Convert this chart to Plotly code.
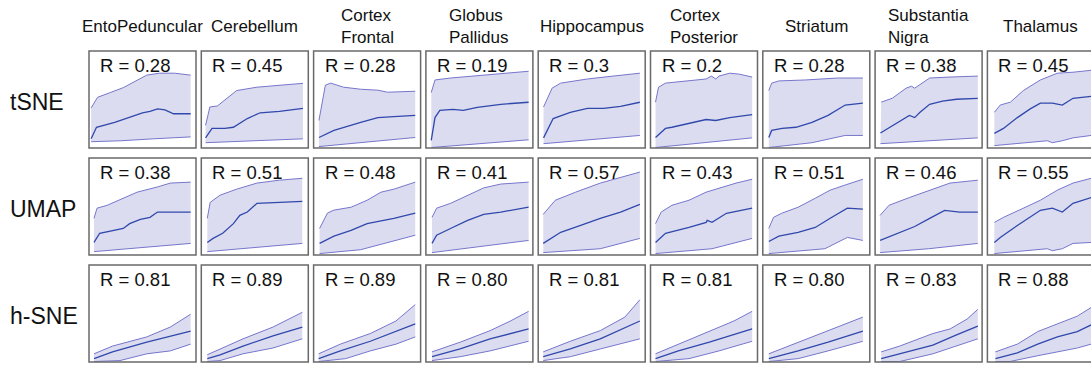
import plotly.graph_objects as go

REGIONS = ["EntoPeduncular", "Cerebellum", "Cortex<br>Frontal", "Globus<br>Pallidus",
           "Hippocampus", "Cortex<br>Posterior", "Striatum", "Substantia<br>Nigra", "Thalamus"]
METHODS = ["tSNE", "UMAP", "h-SNE"]

R_TSNE = ["0.28", "0.45", "0.28", "0.19", "0.3", "0.2", "0.28", "0.38", "0.45"]
R_UMAP = ["0.38", "0.51", "0.48", "0.41", "0.57", "0.43", "0.51", "0.46", "0.55"]
R_HSNE = ["0.81", "0.89", "0.89", "0.80", "0.81", "0.81", "0.80", "0.83", "0.88"]

# (x, y) pairs per region; x and y as fraction of panel
TSNE_UPPER = [
    [(0.02, 0.41), (0.08, 0.52), (0.2, 0.57), (0.32, 0.62), (0.54, 0.75), (0.66, 0.77), (0.8, 0.77), (0.95, 0.75)],
    [(0.04, 0.23), (0.08, 0.42), (0.15, 0.43), (0.33, 0.59), (0.52, 0.625), (0.73, 0.645), (0.95, 0.665)],
    [(0.05, 0.28), (0.11, 0.646), (0.16, 0.667), (0.28, 0.625), (0.44, 0.604), (0.6, 0.594), (0.69, 0.573), (0.95, 0.583)],
    [(0.05, 0.57), (0.085, 0.70), (0.23, 0.72), (0.54, 0.75), (0.96, 0.79)],
    [(0.05, 0.42), (0.13, 0.615), (0.21, 0.667), (0.46, 0.71), (0.70, 0.74), (0.95, 0.77)],
    [(0.047, 0.47), (0.075, 0.625), (0.14, 0.667), (0.36, 0.69), (0.52, 0.71), (0.57, 0.74), (0.61, 0.71),
     (0.64, 0.74), (0.74, 0.77), (0.83, 0.76), (0.95, 0.73)],
    [(0.056, 0.59), (0.083, 0.667), (0.15, 0.69), (0.40, 0.70), (0.70, 0.72), (0.935, 0.72)],
    [(0.057, 0.47), (0.16, 0.51), (0.29, 0.615), (0.34, 0.635), (0.37, 0.615), (0.51, 0.72), (0.70, 0.73), (0.96, 0.74)],
    [(0.065, 0.365), (0.12, 0.44), (0.215, 0.47), (0.336, 0.59), (0.495, 0.70), (0.654, 0.77), (0.80, 0.78), (0.97, 0.80)],
]
TSNE_MEAN = [
    [(0.02, 0.09), (0.07, 0.21), (0.24, 0.26), (0.38, 0.31), (0.5, 0.36), (0.57, 0.375), (0.64, 0.40), (0.71, 0.39),
     (0.79, 0.35), (0.95, 0.35)],
    [(0.04, 0.10), (0.10, 0.198), (0.22, 0.198), (0.30, 0.21), (0.43, 0.30), (0.55, 0.36), (0.73, 0.375), (0.95, 0.406)],
    [(0.05, 0.104), (0.19, 0.177), (0.44, 0.26), (0.6, 0.31), (0.75, 0.32), (0.95, 0.333)],
    [(0.05, 0.073), (0.085, 0.31), (0.13, 0.385), (0.25, 0.396), (0.35, 0.385), (0.48, 0.417), (0.70, 0.448), (0.96, 0.469)],
    [(0.05, 0.10), (0.14, 0.30), (0.30, 0.365), (0.46, 0.406), (0.61, 0.406), (0.77, 0.427), (0.95, 0.469)],
    [(0.047, 0.104), (0.14, 0.198), (0.2, 0.21), (0.36, 0.25), (0.52, 0.29), (0.61, 0.28), (0.74, 0.31), (0.95, 0.34)],
    [(0.056, 0.104), (0.083, 0.177), (0.18, 0.198), (0.31, 0.21), (0.46, 0.26), (0.61, 0.333), (0.77, 0.44), (0.935, 0.46)],
    [(0.05, 0.15), (0.23, 0.27), (0.32, 0.333), (0.37, 0.31), (0.42, 0.365), (0.51, 0.448), (0.63, 0.48), (0.76, 0.50),
     (0.96, 0.51)],
    [(0.065, 0.146), (0.15, 0.198), (0.28, 0.31), (0.40, 0.40), (0.495, 0.46), (0.607, 0.46), (0.70, 0.44), (0.80, 0.51),
     (0.97, 0.53)],
]
TSNE_LOWER = [
    [(0.02, 0.06), (0.3, 0.07), (0.6, 0.09), (0.95, 0.11)],
    [(0.04, 0.05), (0.5, 0.07), (0.95, 0.09)],
    [(0.05, 0.01), (0.5, 0.06), (0.95, 0.104)],
    [(0.05, 0.0), (0.5, 0.04), (0.96, 0.08)],
    [(0.05, 0.04), (0.5, 0.08), (0.95, 0.125)],
    [(0.047, 0.0), (0.5, 0.05), (0.95, 0.10)],
    [(0.056, 0.0), (0.46, 0.05), (0.77, 0.125), (0.935, 0.125)],
    [(0.05, 0.04), (0.5, 0.07), (0.96, 0.10)],
    [(0.065, 0.02), (0.56, 0.07), (0.607, 0.05), (0.70, 0.07), (0.80, 0.10), (0.97, 0.125)],
]

UMAP_UPPER = [
    [(0.047, 0.375), (0.075, 0.48), (0.17, 0.51), (0.32, 0.583), (0.45, 0.646), (0.64, 0.70), (0.76, 0.74), (0.95, 0.75)],
    [(0.056, 0.375), (0.083, 0.54), (0.11, 0.5625), (0.176, 0.615), (0.33, 0.677), (0.52, 0.74), (0.73, 0.77), (0.944, 0.79)],
    [(0.056, 0.27), (0.13, 0.43), (0.19, 0.46), (0.35, 0.49), (0.50, 0.5625), (0.63, 0.646), (0.75, 0.677), (0.95, 0.75)],
    [(0.057, 0.385), (0.10, 0.48), (0.23, 0.53), (0.39, 0.615), (0.54, 0.69), (0.70, 0.73), (0.96, 0.75)],
    [(0.047, 0.417), (0.16, 0.5625), (0.35, 0.646), (0.58, 0.74), (0.95, 0.854)],
    [(0.047, 0.32), (0.10, 0.44), (0.20, 0.51), (0.36, 0.5625), (0.52, 0.646), (0.67, 0.70), (0.80, 0.74), (0.95, 0.78)],
    [(0.056, 0.27), (0.10, 0.385), (0.176, 0.427), (0.33, 0.49), (0.49, 0.583), (0.63, 0.667), (0.77, 0.72), (0.935, 0.78)],
    [(0.047, 0.406), (0.13, 0.51), (0.32, 0.59), (0.51, 0.667), (0.70, 0.74), (0.96, 0.77)],
    [(0.065, 0.333), (0.15, 0.385), (0.336, 0.48), (0.495, 0.5625), (0.654, 0.667), (0.80, 0.74), (0.97, 0.79)],
]
UMAP_MEAN = [
    [(0.047, 0.125), (0.10, 0.22), (0.32, 0.27), (0.38, 0.32), (0.48, 0.365), (0.57, 0.385), (0.64, 0.44), (0.79, 0.44),
     (0.95, 0.44)],
    [(0.056, 0.125), (0.11, 0.167), (0.20, 0.22), (0.30, 0.32), (0.36, 0.406), (0.43, 0.44), (0.52, 0.53), (0.73, 0.54),
     (0.944, 0.55)],
    [(0.056, 0.115), (0.19, 0.19), (0.35, 0.25), (0.50, 0.32), (0.75, 0.375), (0.95, 0.43)],
    [(0.057, 0.115), (0.10, 0.20), (0.23, 0.27), (0.39, 0.354), (0.54, 0.417), (0.70, 0.44), (0.96, 0.49)],
    [(0.047, 0.115), (0.21, 0.23), (0.39, 0.30), (0.58, 0.375), (0.77, 0.44), (0.95, 0.52)],
    [(0.047, 0.125), (0.14, 0.22), (0.36, 0.28), (0.52, 0.333), (0.53, 0.354), (0.575, 0.333), (0.71, 0.427), (0.95, 0.48)],
    [(0.056, 0.135), (0.15, 0.19), (0.33, 0.23), (0.49, 0.28), (0.63, 0.375), (0.79, 0.48), (0.935, 0.47)],
    [(0.047, 0.146), (0.23, 0.23), (0.37, 0.29), (0.51, 0.375), (0.65, 0.458), (0.79, 0.44), (0.96, 0.44)],
    [(0.065, 0.125), (0.12, 0.177), (0.28, 0.30), (0.40, 0.385), (0.495, 0.458), (0.607, 0.48), (0.70, 0.44), (0.80, 0.53),
     (0.97, 0.59)],
]
UMAP_LOWER = [
    [(0.047, 0.03), (0.5, 0.07), (0.95, 0.115)],
    [(0.056, 0.03), (0.5, 0.07), (0.944, 0.115)],
    [(0.056, 0.01), (0.44, 0.05), (0.95, 0.20)],
    [(0.057, 0.02), (0.5, 0.08), (0.96, 0.146)],
    [(0.047, 0.02), (0.58, 0.06), (0.95, 0.167)],
    [(0.047, 0.01), (0.575, 0.06), (0.95, 0.167)],
    [(0.056, 0.01), (0.58, 0.06), (0.79, 0.177), (0.935, 0.146)],
    [(0.047, 0.02), (0.5, 0.06), (0.96, 0.115)],
    [(0.065, 0.01), (0.56, 0.06), (0.607, 0.04), (0.70, 0.06), (0.80, 0.115), (0.97, 0.125)],
]

HSNE_UPPER = [
    [(0.047, 0.08), (0.22, 0.16), (0.54, 0.255), (0.76, 0.357), (0.85, 0.42), (0.95, 0.49)],
    [(0.056, 0.07), (0.176, 0.13), (0.39, 0.235), (0.67, 0.357), (0.944, 0.51)],
    [(0.047, 0.08), (0.25, 0.18), (0.53, 0.29), (0.77, 0.42), (0.95, 0.59)],
    [(0.057, 0.10), (0.32, 0.20), (0.60, 0.32), (0.79, 0.42), (0.96, 0.52)],
    [(0.047, 0.10), (0.30, 0.21), (0.58, 0.32), (0.81, 0.46), (0.95, 0.64)],
    [(0.047, 0.08), (0.26, 0.18), (0.55, 0.31), (0.78, 0.42), (0.95, 0.52)],
    [(0.056, 0.08), (0.33, 0.20), (0.61, 0.32), (0.935, 0.46)],
    [(0.057, 0.10), (0.23, 0.16), (0.54, 0.29), (0.70, 0.337), (0.86, 0.44), (0.96, 0.54)],
    [(0.075, 0.10), (0.28, 0.18), (0.47, 0.31), (0.654, 0.39), (0.84, 0.47), (0.97, 0.56)],
]
HSNE_MEAN = [
    [(0.047, 0.03), (0.22, 0.10), (0.54, 0.20), (0.76, 0.265), (0.95, 0.316)],
    [(0.056, 0.03), (0.176, 0.07), (0.39, 0.16), (0.67, 0.265), (0.944, 0.357)],
    [(0.047, 0.03), (0.25, 0.11), (0.53, 0.21), (0.77, 0.31), (0.95, 0.39)],
    [(0.057, 0.05), (0.32, 0.13), (0.60, 0.235), (0.96, 0.337)],
    [(0.047, 0.05), (0.30, 0.13), (0.58, 0.235), (0.95, 0.42)],
    [(0.047, 0.03), (0.26, 0.11), (0.55, 0.20), (0.95, 0.337)],
    [(0.056, 0.03), (0.33, 0.11), (0.61, 0.20), (0.935, 0.316)],
    [(0.057, 0.03), (0.30, 0.10), (0.54, 0.17), (0.75, 0.27), (0.96, 0.367)],
    [(0.075, 0.03), (0.28, 0.09), (0.47, 0.18), (0.654, 0.255), (0.84, 0.31), (0.97, 0.38)],
]
HSNE_LOWER = [
    [(0.047, 0.0), (0.29, 0.01), (0.54, 0.08), (0.76, 0.11), (0.95, 0.18)],
    [(0.056, 0.0), (0.176, 0.01), (0.39, 0.08), (0.67, 0.14), (0.944, 0.235)],
    [(0.047, 0.0), (0.30, 0.03), (0.53, 0.11), (0.77, 0.18), (0.95, 0.255)],
    [(0.057, 0.01), (0.32, 0.05), (0.60, 0.11), (0.96, 0.21)],
    [(0.047, 0.01), (0.30, 0.05), (0.58, 0.13), (0.95, 0.235)],
    [(0.047, 0.0), (0.36, 0.03), (0.64, 0.11), (0.95, 0.21)],
    [(0.056, 0.0), (0.33, 0.03), (0.61, 0.11), (0.935, 0.21)],
    [(0.057, 0.0), (0.23, 0.0), (0.54, 0.08), (0.96, 0.235)],
    [(0.075, 0.0), (0.21, 0.0), (0.47, 0.06), (0.84, 0.14), (0.97, 0.18)],
]

R_ALL = [R_TSNE, R_UMAP, R_HSNE]
UPPER_ALL = [TSNE_UPPER, UMAP_UPPER, HSNE_UPPER]
MEAN_ALL = [TSNE_MEAN, UMAP_MEAN, HSNE_MEAN]
LOWER_ALL = [TSNE_LOWER, UMAP_LOWER, HSNE_LOWER]

W, H = 1091, 365
COL_LEFT0, COL_STEP, PANEL_W = 89, 112.3, 107
ROW_TOP0, ROW_STEP, PANEL_H = 51, 107, 97

FONT = "Liberation Sans, Arial, sans-serif"
FILL = "rgb(220,220,240)"
EDGE = "rgb(118,118,204)"
MEANC = "rgb(48,72,172)"
BORDER = "rgb(105,105,105)"

fig = go.Figure()
layout = dict(width=W, height=H, margin=dict(l=0, r=0, t=0, b=0),
              paper_bgcolor="white", plot_bgcolor="white", showlegend=False)
shapes, annotations = [], []


def px_x(v):
    return v / W


def px_y(v):
    return 1 - v / H


idx = 0
for r, method in enumerate(METHODS):
    top = ROW_TOP0 + r * ROW_STEP
    bottom = top + PANEL_H
    annotations.append(dict(text=method, x=px_x(8), y=px_y((top + bottom) / 2 + 2), xref="paper", yref="paper",
                            xanchor="left", yanchor="middle", showarrow=False,
                            font=dict(family=FONT, size=23, color="#111")))
    for c in range(len(REGIONS)):
        idx += 1
        left = COL_LEFT0 + c * COL_STEP
        right = left + PANEL_W
        x_end = min(right, W)
        suffix = "" if idx == 1 else str(idx)
        layout["xaxis" + suffix] = dict(domain=[px_x(left), px_x(x_end)], range=[0, (x_end - left) / PANEL_W],
                                        visible=False, fixedrange=True, anchor="y" + suffix)
        layout["yaxis" + suffix] = dict(domain=[px_y(bottom), px_y(top)], range=[-0.005, 1],
                                        visible=False, fixedrange=True, anchor="x" + suffix)
        up, mn, lo = UPPER_ALL[r][c], MEAN_ALL[r][c], LOWER_ALL[r][c]
        xa, ya = "x" + suffix, "y" + suffix
        fig.add_trace(go.Scatter(x=[p[0] for p in lo], y=[p[1] for p in lo], mode="lines",
                                 line=dict(color=EDGE, width=1), xaxis=xa, yaxis=ya, hoverinfo="skip"))
        fig.add_trace(go.Scatter(x=[p[0] for p in up], y=[p[1] for p in up], mode="lines", fill="tonexty",
                                 fillcolor=FILL, line=dict(color=EDGE, width=1), xaxis=xa, yaxis=ya,
                                 hoverinfo="skip"))
        fig.add_trace(go.Scatter(x=[p[0] for p in mn], y=[p[1] for p in mn], mode="lines",
                                 line=dict(color=MEANC, width=1.3), xaxis=xa, yaxis=ya, hoverinfo="skip"))
        shapes.append(dict(type="rect", xref="paper", yref="paper", x0=px_x(left), x1=px_x(right),
                           y0=px_y(bottom), y1=px_y(top), line=dict(color=BORDER, width=1.5), layer="above"))
        annotations.append(dict(text="R = " + R_ALL[r][c], x=px_x(left + 9), y=px_y(top + 14.5),
                                xref="paper", yref="paper", xanchor="left", yanchor="middle", showarrow=False,
                                font=dict(family=FONT, size=18.5, color="#111")))
        if r == 0:
            annotations.append(dict(text=REGIONS[c], x=px_x(left + PANEL_W / 2), y=px_y(26),
                                    xref="paper", yref="paper", xanchor="center", yanchor="middle",
                                    align="left", showarrow=False,
                                    font=dict(family=FONT, size=17, color="#111")))

layout["shapes"] = shapes
layout["annotations"] = annotations
fig.update_layout(**layout)
fig.write_html("out.html")
